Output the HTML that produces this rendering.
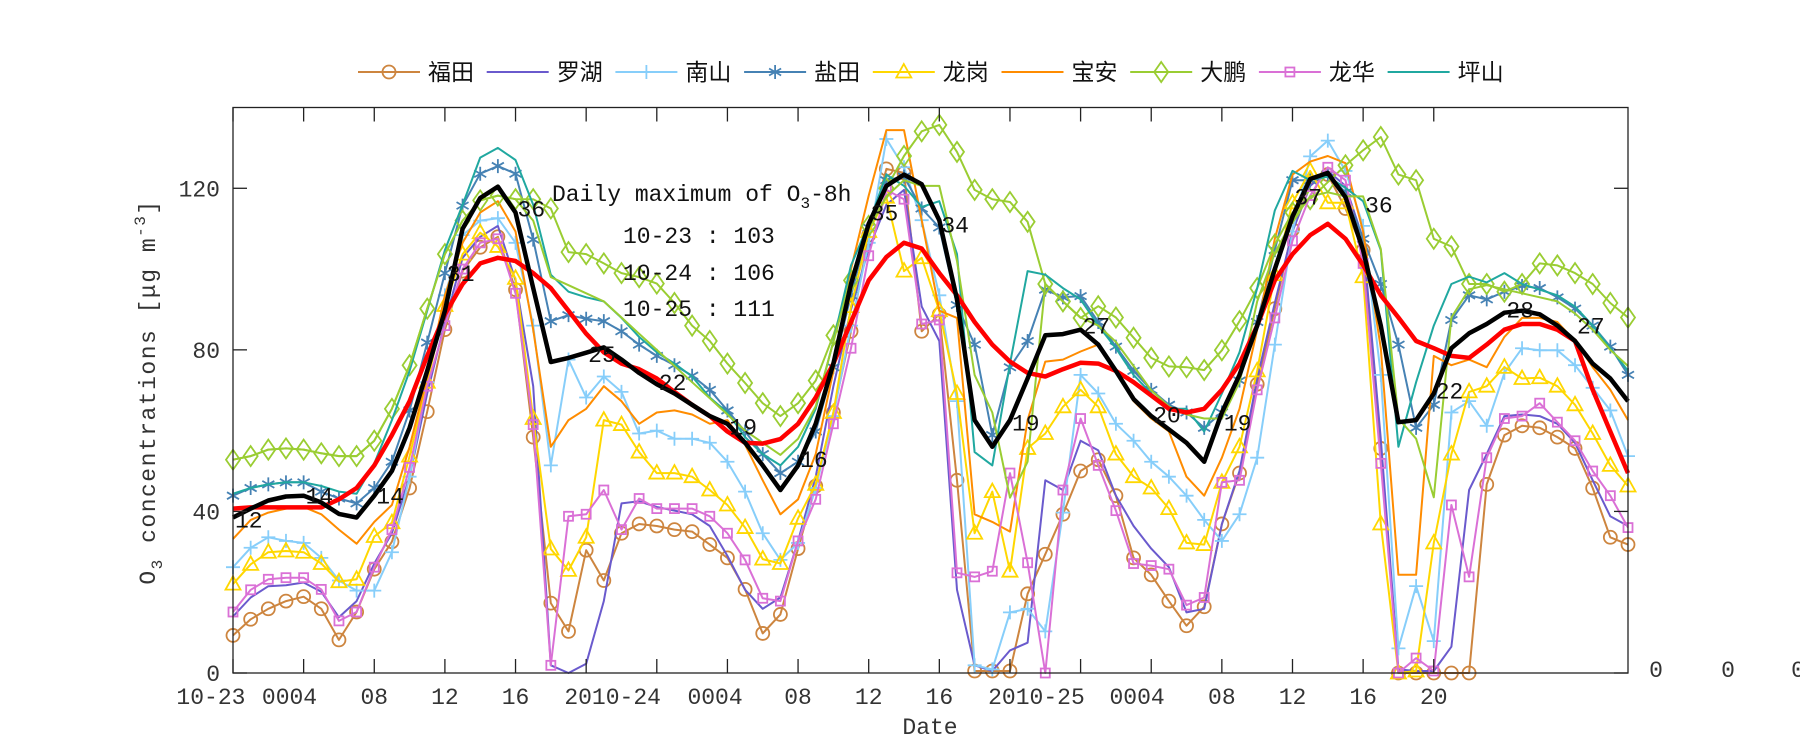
<!DOCTYPE html>
<html><head><meta charset="utf-8">
<style>
html,body{margin:0;padding:0;background:#fff;}
svg{display:block;}
.tk{font-family:"Liberation Mono",monospace;font-size:23px;fill:#333;}
.an{font-family:"Liberation Mono",monospace;font-size:23px;fill:#111;}
.lg{font-family:"Liberation Sans","Noto Sans CJK SC",sans-serif;font-size:23px;fill:#111;}
</style></head>
<body>
<svg id="chart" width="1800" height="750" viewBox="0 0 1800 750" xmlns="http://www.w3.org/2000/svg">
<rect x="0" y="0" width="1800" height="750" fill="#fff"/>
<g id="legend"></g>
<g id="series"></g>
<rect x="233" y="107.5" width="1395" height="565.5" fill="none" stroke="#222" stroke-width="1.3"/>
<g id="axes"></g>
<g id="annot">
<text class="an" x="552" y="201">Daily maximum of O<tspan font-size="16" dy="7">3</tspan><tspan dy="-7">-8h</tspan></text>
<text class="an" x="623" y="243">10-23 : 103</text>
<text class="an" x="623" y="280">10-24 : 106</text>
<text class="an" x="623" y="316">10-25 : 111</text>
</g>
<text class="tk" x="930" y="734" text-anchor="middle" font-size="24">Date</text>
<text class="tk" transform="translate(155,392) rotate(-90)" text-anchor="middle" font-size="24" letter-spacing="1.5">O<tspan font-size="16" dy="7">3</tspan><tspan dy="-7"> concentrations [μg m</tspan><tspan font-size="16" dy="-10">-3</tspan><tspan dy="10">]</tspan></text>
</svg>
<script>
const hours = [];
for (let i = 0; i < 80; i++) hours.push(i);
const futian = [9.3,13.3,15.9,17.8,18.9,15.9,8.2,15.1,25.7,32.5,45.8,64.7,85,99.5,105.4,108,94.9,58.4,17.3,10.3,30.4,22.9,34.6,36.9,36.4,35.5,35,31.8,
28.5,20.7,9.8,14.5,30.8,46.3,64.5,84.6,108.4,124.8,123.8,84.6,88.8,47.7,0.5,0.5,0.5,19.6,29.4,39.3,50,52.8,43.9,28.5,24.3,17.8,
11.7,16.4,36.9,49.5,71.5,90.2,109.8,121,123.4,115,104.7,55.6,0,0,0,0,0,46.7,58.9,61.2,60.7,58.4,55.6,45.8,33.6,31.8];
const luohu = [14,18.7,21.5,21.7,22.4,20.1,13.8,17.8,27.1,34.6,48.6,69.2,86.9,102.8,108,110.7,97.2,71,1.9,0,2.3,17.8,42,42.5,41.1,40.2,39.3,36.4,
29,20.6,15.9,18.7,32.7,48.6,71,90,105,115.9,119.6,90.7,82.2,20.6,1.9,0.5,5.6,7.5,47.7,45.3,57.5,55.1,43.9,36.4,30.8,26.2,
15,15.9,36.9,50,72.9,91.6,109.3,120.6,124.3,120.6,107.5,57.9,0.9,0.5,0.5,6.5,45.3,54.2,63.6,64,63.6,61.7,57,47.7,38.8,36.4];
const nanshan = [26.2,31,33.6,32.7,32.2,28.5,22.9,20.4,20.4,29.9,48.6,72,93.5,108.4,112,112.6,106.5,86,51.4,77.6,68.2,73.4,69.6,59.3,60,58,58,57,
52.3,44.9,34.6,28,32.2,45.8,63.6,86,106.5,132.2,125.2,112.1,93.5,67.3,1.9,0.9,15,15.9,10.3,39.7,73.8,69.2,61.7,57.5,52.3,48.6,
43.9,37.9,32.7,39.3,53.3,81.3,109.3,127.9,131.8,124.3,110.7,73.8,6.1,21.5,7.9,64.5,67.3,61.2,74.3,80.4,79.9,79.9,76.2,70.6,65,53.7];
const yantian = [43.9,45.8,46.7,47.2,47.2,44.9,43.2,42,45.8,52.3,65,81.8,99,115.7,123.6,125.5,123.6,107.3,87.1,88.6,87.7,87.1,84.6,81.3,78.5,76.2,73.6,70.1,
65,59.8,54.2,49.5,52.3,59.8,75.7,93.5,110.3,122,122.9,115,110.3,91.1,81.3,58.9,75.7,82.2,94.9,93,93.3,86.9,80.8,74.8,70.1,66.4,
64.5,60.7,64.5,72.4,86.9,104.7,122,122,123.4,119,107.5,96.3,81.3,60.7,66.4,87.4,93.5,92.5,94.4,95.8,95.3,93,90.2,86,80.8,73.8];
const longgang = [22,26.9,29.9,30.2,29.9,27.1,22.6,23.2,33.8,37.2,53.7,72,91,103.7,109,105.6,97.7,63,30.7,25.4,33.6,62.6,61.5,54.7,49.5,49.5,48.6,45.3,
41.6,36,28.2,27.1,38.3,46.7,64.5,90.7,109.3,117.8,99.5,102.8,89.7,69.2,34.6,44.9,25.2,55.6,59.3,65.9,70.1,65.9,54.2,48.6,45.8,40.7,
32.2,31.8,47.2,56,74.8,98.6,116.4,124.3,116.4,116.4,98.1,36.9,0,0.5,32.2,54.2,69.6,71,75.7,72.9,73.1,71,66.4,59.3,51.4,46.3];
const baoan = [33.2,37.9,39.7,40.7,41.1,39.3,35.5,32,37.4,41.6,56,73.4,93.5,106.5,114,116.8,109.3,85,56,62.6,65.4,71,67.3,61.7,64.5,65,64,61.7,
62.6,56.5,47.7,39.3,43,54.2,74.8,100,118.2,134.4,134.4,112.1,89.7,87.9,39.3,37.4,35,62.6,77.1,77.6,79.6,81.3,74.8,67.3,63,59.8,
48.6,43.9,53.3,65.4,85,107.5,123.4,126.6,128,126.2,109.3,80.4,24.3,24.3,78.5,76.2,77.6,75.7,83.2,87.9,87.9,86.9,82.2,75.7,70.1,62.6];
const dapeng = [52.8,53.7,55.3,55.6,55.3,54.4,53.7,53.7,57.5,65.4,76.2,90.2,103.7,112,117,118.2,117.3,117.3,115,104.2,103.7,101.4,99,98,96.4,91.6,86,82.2,
76.6,71.8,66.8,63.6,66.8,72.4,83.6,97.2,110.7,120,128,134.1,135.7,129,119.6,117.3,116.6,111.7,96.3,92,87.9,90.8,88,83,78,75.9,
75.7,75,79.9,87.1,95.3,106.1,114,117.3,121.5,125.7,129.4,132.7,123.4,122,107.5,105.6,96.3,96.3,94.4,96.3,101.4,100.9,99,96.3,91.6,88];
const dapengLine = [52.8,53.7,55.3,55.6,55.3,54.4,53.7,53.7,57.5,65.4,76.2,90.2,103.7,112,117,118.2,117.3,112,98,96,94,92,88,84,80,76,72,68,
64,60,57,54,58,66,82,98,110,118,122,120.6,120.6,102,73.8,64.5,43.4,52.3,96.3,92,88,86,82,76,70,66,
64,63,63,72,92,104,112,118,119,118,118,105,63,58,43.5,88,95,96,95,94,93,92,89,85,80,76];
const longhua = [15.1,20.6,23.2,23.6,23.6,20.7,12.9,15.1,26.2,35.5,50.9,71,86,100,106.5,107.5,94,61.5,1.9,38.8,39.3,45.3,35.5,43.2,40.7,40.7,40.7,38.8,
34.6,28,18.5,17.8,32.7,43,61.7,80.4,103.3,119.6,117.3,86.4,87.4,24.8,23.8,25.2,49.5,27.3,0,45.3,63,51.4,40.2,27.1,26.6,25.7,
16.8,18.7,47.2,47.7,70.1,87.9,107,118.2,125.2,122,101.4,51.9,0,3.7,0.5,41.6,23.8,53.3,63,63.6,66.8,62.1,57.5,50,43.9,36];
const pingshan = [44.4,45.8,46.7,47.2,47.2,46.3,44.9,44.4,51.9,62.6,74.8,89.7,104.7,115.9,127.6,130,127,115.9,98.6,94.4,93,92,87.9,83.2,79.4,76.6,73.4,68.2,
64.5,58.4,54.2,51.4,56,65.4,82.2,100.9,111.2,123.4,120.6,115.4,116.8,103.7,54.7,51.4,76.6,99.5,98.6,95.3,92.5,86,80.4,73.8,69.2,65.4,
65.4,59.8,69.2,79.4,95.3,114.5,124.3,122,122.9,120.1,116.8,104.7,56,72,86,96.3,98.1,96.7,99,96.3,94.9,93.5,90.7,86,80.4,74.8];
const o3mean = [38.5,40.7,42.7,43.7,43.9,42.2,39.4,38.5,43.9,50,60.7,74.8,89.7,110,117.6,120.4,114,95.3,77,78,79.3,80.6,77.6,74.3,71.5,69.2,66.4,63.6,
61.7,57,51.4,45.3,51.4,61.7,76.6,96.3,111.2,120.6,123.4,121,112.1,92.5,62.6,56,62.6,72.9,83.6,83.9,85,81.3,74.8,67.8,63.6,60.3,
57,52.3,64.5,73.8,86,100,113,122.3,123.8,117.8,104.7,86,62.1,62.6,69.2,80.4,84.1,86.4,89.2,89.7,88.8,86,82.2,76.6,72.9,67.3];
const o3_8h = [40.7,41,41,41,41,41,43,45.8,51.4,58.9,67.3,78.5,88.8,96.3,101.4,102.8,102,99,95.3,89.7,84,79.4,76.6,75.2,72.9,69.6,66.4,63.6,
59.8,57,56.8,57.9,61.7,68.2,76.6,86.9,97.2,103,106.5,105.1,99,93.5,86.9,81.3,77.1,74.3,73.4,75.2,76.8,76.6,74.8,72,68.7,65.4,
64.5,65.4,70.1,76.6,86,97.2,103.7,108.4,111.2,107.5,101,93.5,88,82.2,80.4,78.5,78,81.3,85,86.4,86.4,85,82.2,70.1,59.8,49.5];
const yTicks = [0,40,80,120];
const xTickHours = [0,4,8,12,16,20,24,28,32,36,40,44,48,52,56,60,64,68];
const xLabelText = ["10-23","0004","08","12","16","2010-24","0004","08","12","16","2010-25","0004","08","12","16","20"];
const xLabelHour = [-1.25,3.2,8,12,16,21.5,27.3,32,36,40,45.5,51.2,56,60,64,68];
const peakText = ["12","14","14","31","36","25","22","19","16","35","34","19","27","20","19","37","36","22","28","27"];
const peakHour = [0,4,8,12,16,20,24,28,32,36,40,44,48,52,56,60,64,68,72,76];
const peakVal = [38,44,44,99,115,79,72,61,53,114,111,62,86,64,62,118,116,70,90,86];

const NS = "http://www.w3.org/2000/svg";
const X = h => 233 + h * (1628 - 233) / 79;
const Y = v => 673 - v * (673 - 107.5) / 140;
function mk(tag, attrs, parent) {
  const e = document.createElementNS(NS, tag);
  for (const k in attrs) e.setAttribute(k, attrs[k]);
  parent.appendChild(e);
  return e;
}
function marker(type, cx, cy, color, g) {
  let e;
  if (type === "circle") {
    e = mk("circle", {cx: cx, cy: cy, r: 6.5, fill: "none", stroke: color, "stroke-width": 1.8}, g);
  } else if (type === "square") {
    e = mk("rect", {x: cx - 4.5, y: cy - 4.5, width: 9, height: 9, fill: "none", stroke: color, "stroke-width": 1.8}, g);
  } else if (type === "triangle") {
    e = mk("polygon", {points: `${cx},${cy - 8} ${cx + 7.5},${cy + 5.5} ${cx - 7.5},${cy + 5.5}`, fill: "none", stroke: color, "stroke-width": 1.8}, g);
  } else if (type === "diamond") {
    e = mk("polygon", {points: `${cx},${cy - 10} ${cx + 7},${cy} ${cx},${cy + 10} ${cx - 7},${cy}`, fill: "none", stroke: color, "stroke-width": 1.8}, g);
  } else if (type === "plus") {
    e = mk("path", {d: `M${cx - 7},${cy}H${cx + 7}M${cx},${cy - 7}V${cy + 7}`, stroke: color, "stroke-width": 1.8, fill: "none"}, g);
  } else if (type === "star") {
    e = mk("path", {d: `M${cx},${cy - 7}V${cy + 7}M${cx - 6},${cy - 3.5}L${cx + 6},${cy + 3.5}M${cx - 6},${cy + 3.5}L${cx + 6},${cy - 3.5}`, stroke: color, "stroke-width": 1.8, fill: "none"}, g);
  }
  return e;
}
const seriesDefs = [
  {name: "futian", label: "福田", data: futian, color: "#CD853F", m: "circle", w: 2},
  {name: "luohu", label: "罗湖", data: luohu, color: "#6A5ACD", m: null, w: 2},
  {name: "nanshan", label: "南山", data: nanshan, color: "#87CEFA", m: "plus", w: 2},
  {name: "yantian", label: "盐田", data: yantian, color: "#4682B4", m: "star", w: 2},
  {name: "longgang", label: "龙岗", data: longgang, color: "#FFD700", m: "triangle", w: 2},
  {name: "baoan", label: "宝安", data: baoan, color: "#FF8C00", m: null, w: 2},
  {name: "dapeng", label: "大鹏", data: dapeng, color: "#9ACD32", m: "diamond", w: 2},
  {name: "longhua", label: "龙华", data: longhua, color: "#DA70D6", m: "square", w: 2},
  {name: "pingshan", label: "坪山", data: pingshan, color: "#20A8A0", m: null, w: 2}
];
const sg = document.getElementById("series");
function drawLine(data, color, w, name) {
  const pts = data.map((v, i) => `${X(hours[i]).toFixed(1)},${Y(v).toFixed(1)}`).join(" ");
  const pl = mk("polyline", {points: pts, fill: "none", stroke: color, "stroke-width": w, "stroke-linejoin": "round"}, sg);
  
  
}
seriesDefs.forEach(s => {
  drawLine(s.data, s.color, s.w, s.name + "-line");
  if (s.m) {
    const g = mk("g", {}, sg);
    
    
    s.data.forEach((v, i) => {
      const e = marker(s.m, X(hours[i]), Y(v), s.color, g);
      
      
    });
  }
});
drawLine(dapengLine, "#9ACD32", 2, "dapeng-hourly-line");
drawLine(o3_8h, "#FF0000", 4.5, "o3-8h-line");
drawLine(o3mean, "#000000", 4.5, "o3-mean-line");

const ax = document.getElementById("axes");
yTicks.forEach(v => {
  const y = Y(v);
  const t1 = mk("line", {x1: 233, x2: 247, y1: y, y2: y, stroke: "#222", "stroke-width": 1.3}, ax);
  
  
  const t2 = mk("line", {x1: 1614, x2: 1628, y1: y, y2: y, stroke: "#222", "stroke-width": 1.3}, ax);
  
  
  const tx = mk("text", {x: 220, y: y + 8, "text-anchor": "end", class: "tk"}, ax);
  tx.textContent = String(v);
  
  
});
xTickHours.forEach(h => {
  const x = X(h);
  const b = mk("line", {x1: x, x2: x, y1: 673, y2: 659, stroke: "#222", "stroke-width": 1.3}, ax);
  
  
  const t = mk("line", {x1: x, x2: x, y1: 107.5, y2: 121.5, stroke: "#222", "stroke-width": 1.3}, ax);
  
  
});
xLabelText.forEach((s, i) => {
  const tx = mk("text", {x: X(xLabelHour[i]), y: 704, "text-anchor": "middle", class: "tk"}, ax);
  tx.textContent = s;
  
  
});
[1656, 1728, 1798].forEach(x => {
  const tx = mk("text", {x: x, y: 677, "text-anchor": "middle", class: "tk", "font-size": 25}, ax);
  tx.textContent = "0";
  
  
});
const an = document.getElementById("annot");
peakText.forEach((s, i) => {
  const tx = mk("text", {x: X(peakHour[i]) + 2, y: Y(peakVal[i]) + 8, class: "an"}, an);
  tx.textContent = s;
  
  
});
const lg = document.getElementById("legend");
seriesDefs.forEach((s, i) => {
  const x0 = 358 + i * 128.7;
  const g = mk("g", {}, lg);
  
  
  mk("line", {x1: x0, x2: x0 + 62, y1: 72, y2: 72, stroke: s.color, "stroke-width": 2}, g);
  if (s.m) marker(s.m, x0 + 31, 72, s.color, g);
  const tx = mk("text", {x: x0 + 70, y: 80, class: "lg"}, g);
  tx.textContent = s.label;
  
  
});
</script>
</body></html>
